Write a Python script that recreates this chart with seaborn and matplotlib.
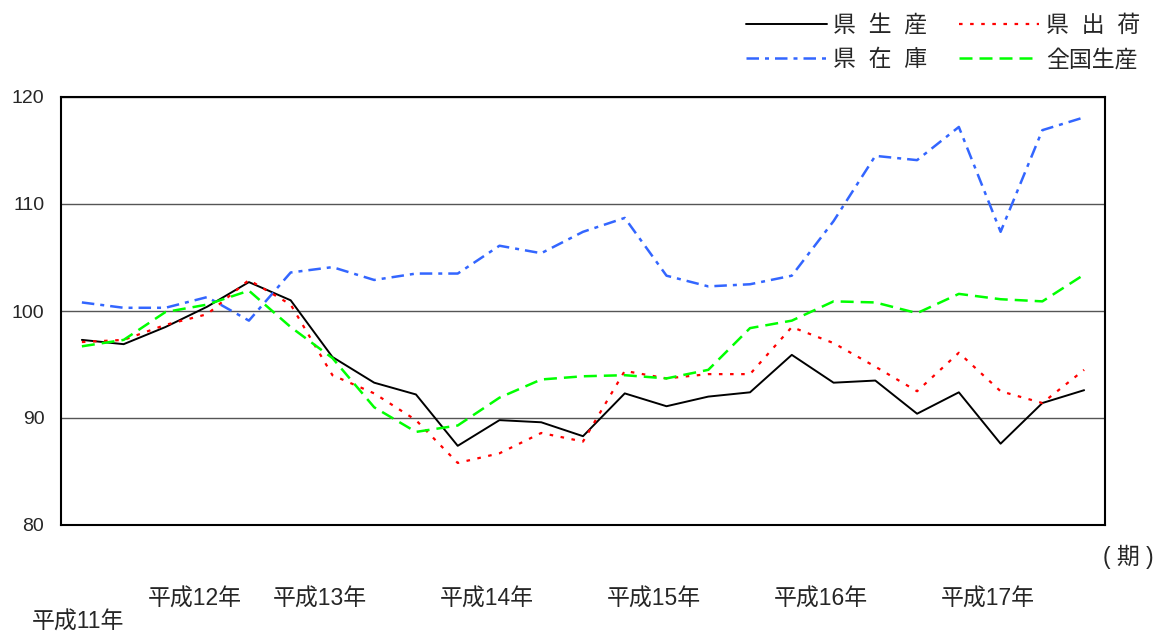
import numpy as np
import pandas as pd
import matplotlib
matplotlib.use('Agg')
import matplotlib.pyplot as plt
import seaborn as sns

# 四半期ごとの指数（平成11年〜平成17年）
pref_production = [97.3, 96.9, 98.5, 100.4, 102.7, 101.0, 95.7, 93.3, 92.2, 87.4, 89.8, 89.6, 88.3,
                   92.3, 91.1, 92.0, 92.4, 95.9, 93.3, 93.5, 90.4, 92.4, 87.6, 91.4, 92.6]
pref_shipment = [97.1, 97.3, 98.7, 99.7, 102.9, 100.6, 94.0, 92.3, 89.8, 85.8, 86.7, 88.6, 87.8,
                 94.4, 93.7, 94.1, 94.1, 98.5, 97.0, 94.8, 92.5, 96.1, 92.5, 91.4, 94.5]
pref_inventory = [100.8, 100.3, 100.3, 101.3, 99.1, 103.6, 104.1, 102.9, 103.5, 103.5, 106.1, 105.4, 107.4,
                  108.7, 103.3, 102.3, 102.5, 103.3, 108.4, 114.5, 114.1, 117.2, 107.4, 116.9, 118.1]
national_production = [96.7, 97.3, 99.9, 100.6, 101.9, 98.5, 95.6, 91.0, 88.7, 89.3, 91.9, 93.6, 93.9,
                       94.0, 93.7, 94.5, 98.4, 99.1, 100.9, 100.8, 99.8, 101.6, 101.1, 100.9, 103.4]

year_labels = ['平成12年', '平成13年', '平成14年', '平成15年', '平成16年', '平成17年']
year_start_label = '平成11年'
y_ticks = [80, 90, 100, 110, 120]

periods = np.arange(len(pref_production))

sns.set_style('white')
plt.rcParams['font.family'] = ['Liberation Sans', 'Noto Sans CJK JP']

fig = plt.figure(figsize=(11.58, 6.37), dpi=100)
ax = fig.add_axes([61 / 1158, 1 - 525 / 637, 1044 / 1158, 428 / 637])

sns.lineplot(x=periods, y=pref_production, ax=ax, color='black', lw=1.4, label='県  生  産')
sns.lineplot(x=periods, y=pref_inventory, ax=ax, color='#3366FF', lw=1.8,
             linestyle=(0, (5, 2.4, 1.6, 2.4)), label='県  在  庫')
sns.lineplot(x=periods, y=pref_shipment, ax=ax, color='red', lw=1.6,
             linestyle=(0, (1.6, 3.4)), label='県  出  荷')
sns.lineplot(x=periods, y=national_production, ax=ax, color='#00FF00', lw=1.8,
             linestyle=(0, (5.2, 2.8)), label='全国生産')

ax.set_xlim(-0.5, len(periods) - 0.5)
ax.set_ylim(80, 120)
ax.set_yticks(y_ticks)
ax.tick_params(axis='y', length=0, pad=12, labelsize=14)
ax.yaxis.grid(True, color='#555555', lw=1.0)
ax.xaxis.grid(False)

ax.set_xticks([2.7, 5.7, 9.7, 13.7, 17.7, 21.7], year_labels)
ax.set_xticks([-0.1], [year_start_label], minor=True)
ax.tick_params(axis='x', which='both', length=0, labelsize=16.5)
ax.tick_params(axis='x', which='major', pad=45)
ax.tick_params(axis='x', which='minor', pad=62)

for s in ax.spines.values():
    s.set_visible(True)
    s.set_color('black')
    s.set_linewidth(1.5)

fig.text(1128 / 1158, 1 - 557 / 637, '( 期 )', ha='center', va='center', fontsize=16.5)

ax.legend(ncol=2, loc='upper right', bbox_to_anchor=(1140 / 1158, 1 - 14 / 637),
          bbox_transform=fig.transFigure, frameon=False, fontsize=16.5, handlelength=3.5,
          handletextpad=0.28, columnspacing=1.4, labelspacing=0.5, borderpad=0,
          borderaxespad=0)

fig.savefig('out.png', dpi=100)
